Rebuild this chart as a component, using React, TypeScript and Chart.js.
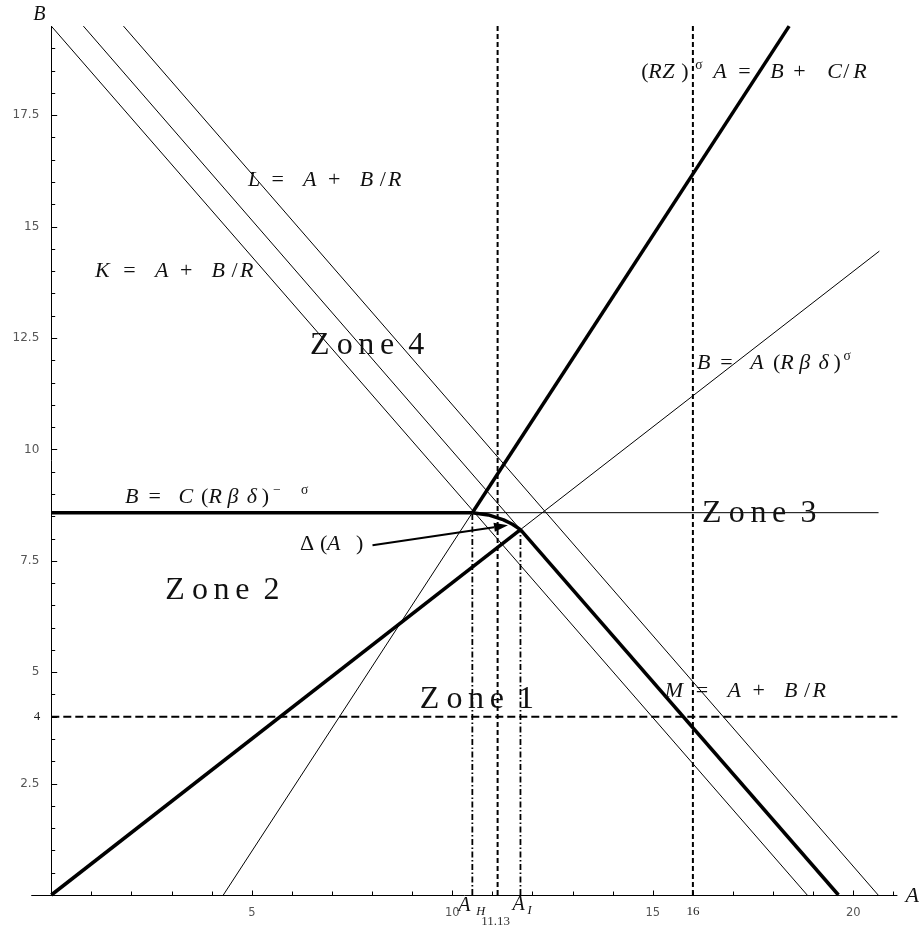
import React, { useEffect, useRef } from "react";
import { Chart, registerables } from "chart.js";
Chart.register(...registerables);

// ---------------- data ----------------
const X_MAX = 21.1;
const Y_MAX = 19.5;
const xTickLabels = [5, 10, 15, 20];
const yTickLabels = [2.5, 5, 7.5, 10, 12.5, 15, 17.5];
const xSpecial = [11.13, 16];
const ySpecial = [4];

const B_C = 8.58; // B = C(Rβδ)^-σ level
const A_H = 10.5;
const A_I = 11.7;
const B_I = 8.2;
const A_MID = 11.13;
const A_16 = 16;
const B_4 = 4;

const horizThick: number[][] = [[0, B_C], [A_H, B_C]];
const horizThin: number[][] = [[A_H, B_C], [20.63, B_C]];
const deltaCurve: number[][] = [[A_H, B_C], [10.9, 8.53], [11.28, 8.42], [11.5, 8.32], [A_I, B_I]];
const rayThick: number[][] = [[0, 0], [A_I, B_I]];
const rayThin: number[][] = [[A_I, B_I], [20.65, 14.45]];
const rzThin: number[][] = [[4.29, 0], [A_H, B_C]];
const rzThick: number[][] = [[A_H, B_C], [18.4, 19.5]];
const kLine: number[][] = [[0, 19.5], [18.85, 0]];
const mThin: number[][] = [[0.8, 19.5], [A_I, B_I]];
const mThick: number[][] = [[A_I, B_I], [19.63, 0]];
const lLine: number[][] = [[1.8, 19.5], [20.62, 0]];
const vDashMid: number[][] = [[A_MID, 0], [A_MID, Y_MAX]];
const vDash16: number[][] = [[A_16, 0], [A_16, Y_MAX]];
const vDotH: number[][] = [[A_H, 0], [A_H, B_C]];
const vDotI: number[][] = [[A_I, 0], [A_I, B_I]];
const hDash4: number[][] = [[0, B_4], [X_MAX, B_4]];
const arrowFrom = [8.01, 7.85];
const arrowTo = [11.39, 8.3];

// label anchors (data coords) and token layouts
type Tok = [string, number, string?];
const eqTail = (w: number): Tok[] => [
  ["=", w, "r"], ["A", w + 31.6], ["+", w + 56.6, "r"], ["B", w + 88.3], ["/", w + 108.3, "r"], ["R", w + 116.6],
];
const labels: { at: number[]; size: number; toks: Tok[] }[] = [
  { at: [14.71, 18.34], size: 22, toks: [["(", 0, "r"], ["R", 7], ["Z", 21], [")", 40, "r"], ["σ", 54, "sr"], ["A", 72], ["=", 97, "r"], ["B", 129], ["+", 152, "r"], ["C", 186], ["/", 202, "r"], ["R", 212]] },
  { at: [4.905, 15.91], size: 22, toks: [["L", 0], ...eqTail(23.4)] },
  { at: [1.09, 13.87], size: 22, toks: [["K", 0], ...eqTail(28.3)] },
  { at: [15.3, 4.44], size: 22, toks: [["M", 0], ...eqTail(31)] },
  { at: [16.1, 11.8], size: 22, toks: [["B", 0], ["=", 23.3, "r"], ["A", 53.3], ["(", 76, "r"], ["R", 83.3], ["β", 102.3], ["δ", 121.7], [")", 136.7, "r"], ["σ", 146.7, "sr"]] },
  { at: [1.84, 8.8], size: 22, toks: [["B", 0], ["=", 23.3, "r"], ["C", 53.3], ["(", 76, "r"], ["R", 83.3], ["β", 102.3], ["δ", 121.7], [")", 136.7, "r"], ["−", 148, "sr"], ["σ", 176, "sr"]] },
  { at: [6.2, 7.74], size: 22, toks: [["Δ", 0, "r"], ["(", 20, "r"], ["A", 27], [")", 56, "r"]] },
];
const zoneOffsets = [0, 26.7, 48.3, 70, 98.3];
const zones: { name: string; at: number[] }[] = [
  { name: "Zone1", at: [9.19, 4.2] },
  { name: "Zone2", at: [2.84, 6.64] },
  { name: "Zone3", at: [16.23, 8.37] },
  { name: "Zone4", at: [6.45, 12.14] },
];

const pts = (a: number[][]) => a.map(([x, y]) => ({ x, y }));

function drawToks(ctx: CanvasRenderingContext2D, toks: Tok[], x0: number, y0: number, size: number) {
  for (const [t, dx, st0] of toks) {
    const st = st0 || "i";
    const sup = st.startsWith("s");
    const sub = st.startsWith("b");
    const it = st.endsWith("i");
    const fs = sup || sub ? size * 0.62 : size;
    ctx.font = `${it ? "italic " : ""}${fs}px "Liberation Serif"`;
    const dy = sup ? -size * 0.4 : sub ? size * 0.22 : 0;
    ctx.fillText(t, x0 + dx, y0 + dy);
  }
}

const overlay = {
  id: "overlay",
  beforeDatasetsDraw(chart: any) {
    const { ctx } = chart;
    const xs = chart.scales.x, ys = chart.scales.y;
    const X = (v: number) => xs.getPixelForValue(v);
    const Y = (v: number) => ys.getPixelForValue(v);
    ctx.save();
    ctx.strokeStyle = "#000";
    ctx.lineWidth = 1;
    const x0 = Math.round(X(0)) + 0.5;
    const y0 = Math.round(Y(0)) + 0.5;
    ctx.beginPath();
    ctx.moveTo(X(-0.5), y0);
    ctx.lineTo(X(X_MAX), y0);
    ctx.moveTo(x0, y0);
    ctx.lineTo(x0, Y(Y_MAX));
    // x ticks
    for (let v = 1; v <= 21; v++) {
      const px = Math.round(X(v)) + 0.5;
      const len = v % 5 === 0 ? 5 : 4;
      ctx.moveTo(px, y0);
      ctx.lineTo(px, y0 - len);
    }
    // y ticks
    for (let i = 1; i <= 38; i++) {
      const v = i * 0.5;
      const py = Math.round(Y(v)) + 0.5;
      const major = yTickLabels.includes(v) || ySpecial.includes(v);
      ctx.moveTo(x0, py);
      ctx.lineTo(x0 + (major ? 5.7 : 3.7), py);
    }
    ctx.stroke();

    // tick labels
    ctx.fillStyle = "#555";
    ctx.font = '11.5px "DejaVu Sans"';
    ctx.textBaseline = "middle";
    ctx.textAlign = "center";
    for (const v of xTickLabels) ctx.fillText(String(v), X(v), Y(0) + 18);
    ctx.font = '12px "DejaVu Sans"';
    ctx.textAlign = "right";
    for (const v of yTickLabels) ctx.fillText(String(v), X(0) - 12, Y(v));
    ctx.fillStyle = "#222";
    ctx.font = '13px "Liberation Serif"';
    ctx.fillText(String(ySpecial[0]), X(0) - 11, Y(ySpecial[0]));
    ctx.textAlign = "center";
    ctx.fillText(String(xSpecial[1]), X(xSpecial[1]), Y(0) + 17);
    ctx.fillStyle = "#333";
    ctx.fillText(String(xSpecial[0]), X(xSpecial[0]) - 2, Y(0) + 27);

    // axis names and A_H / A_I
    ctx.fillStyle = "#111";
    ctx.textAlign = "left";
    ctx.textBaseline = "alphabetic";
    ctx.font = 'italic 20px "Liberation Serif"';
    ctx.fillText("B", X(0) - 18, Y(Y_MAX) - 6);
    ctx.font = 'italic 22px "Liberation Serif"';
    ctx.fillText("A", X(X_MAX) + 8, Y(0) + 7);
    drawToks(ctx, [["A", 0], ["H", 18, "bi"]], X(A_H) - 14, Y(0) + 16, 20);
    drawToks(ctx, [["A", 0], ["I", 15, "bi"]], X(A_I) - 8, Y(0) + 15, 20);
    ctx.restore();
  },
  afterDatasetsDraw(chart: any) {
    const { ctx } = chart;
    const xs = chart.scales.x, ys = chart.scales.y;
    const X = (v: number) => xs.getPixelForValue(v);
    const Y = (v: number) => ys.getPixelForValue(v);
    ctx.save();
    ctx.fillStyle = "#111";
    ctx.textAlign = "left";
    ctx.textBaseline = "alphabetic";
    for (const l of labels) drawToks(ctx, l.toks, X(l.at[0]), Y(l.at[1]), l.size);
    for (const z of zones) {
      const chars = [z.name[0], z.name[1], z.name[2], z.name[3], z.name[4]];
      drawToks(ctx, chars.map((c, i) => [c, zoneOffsets[i], "r"] as Tok), X(z.at[0]), Y(z.at[1]), 32);
    }
    // arrow
    const ax0 = X(arrowFrom[0]), ay0 = Y(arrowFrom[1]);
    const ax1 = X(arrowTo[0]), ay1 = Y(arrowTo[1]);
    const ang = Math.atan2(ay1 - ay0, ax1 - ax0);
    const hl = 14, hw = 4.5;
    const bx = ax1 - hl * Math.cos(ang), by = ay1 - hl * Math.sin(ang);
    ctx.strokeStyle = "#000";
    ctx.lineWidth = 2;
    ctx.beginPath();
    ctx.moveTo(ax0, ay0);
    ctx.lineTo(bx, by);
    ctx.stroke();
    ctx.fillStyle = "#000";
    ctx.beginPath();
    ctx.moveTo(ax1, ay1);
    ctx.lineTo(bx - hw * Math.sin(ang), by + hw * Math.cos(ang));
    ctx.lineTo(bx + hw * Math.sin(ang), by - hw * Math.cos(ang));
    ctx.closePath();
    ctx.fill();
    ctx.restore();
  },
};

function ds(data: number[][], width: number, dash: number[] = []) {
  return {
    data: pts(data),
    showLine: true,
    borderColor: "#000",
    backgroundColor: "#000",
    borderWidth: width,
    borderDash: dash,
    pointRadius: 0,
    fill: false,
    tension: 0,
    clip: false,
    borderCapStyle: "butt",
    borderJoinStyle: "round",
  } as any;
}

export default function App() {
  const ref = useRef<HTMLCanvasElement>(null);
  useEffect(() => {
    const chart = new Chart(ref.current!, {
      type: "scatter",
      data: {
        datasets: [
          ds(hDash4, 2, [8, 4]),
          ds(vDashMid, 2, [5, 3]),
          ds(vDash16, 2, [5, 3]),
          ds(vDotH, 1.8, [6, 2.5, 1.5, 2.5]),
          ds(vDotI, 1.8, [6, 2.5, 1.5, 2.5]),
          ds(kLine, 1),
          ds(mThin, 1),
          ds(lLine, 1),
          ds(horizThin, 1),
          ds(rayThin, 1),
          ds(rzThin, 1),
          ds(horizThick, 3.5),
          ds(deltaCurve, 3.5),
          ds(rayThick, 3.5),
          ds(rzThick, 3.5),
          ds(mThick, 3.5),
        ],
      },
      options: {
        animation: false,
        responsive: false,
        devicePixelRatio: 1,
        events: [],
        layout: { padding: { left: 51.3, right: 22.6, top: 26.1, bottom: 34 } },
        scales: {
          x: { type: "linear", min: 0, max: X_MAX, display: false },
          y: { type: "linear", min: 0, max: Y_MAX, display: false },
        },
        plugins: { legend: { display: false }, tooltip: { enabled: false } },
      },
      plugins: [overlay],
    });
    return () => chart.destroy();
  }, []);
  return (
    <div style={{ position: "absolute", left: 0, top: 0, width: 920, height: 929, background: "#fff" }}>
      <canvas ref={ref} width={920} height={929} style={{ width: 920, height: 929, display: "block" }} />
    </div>
  );
}
